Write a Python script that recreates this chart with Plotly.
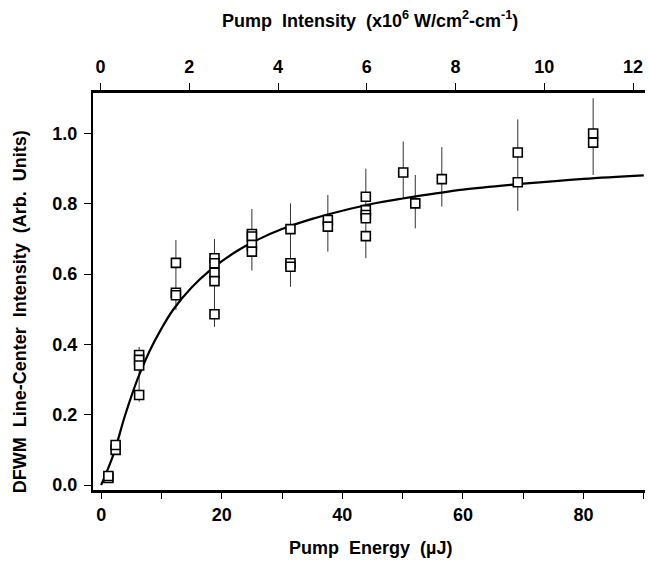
import plotly.graph_objects as go

# ---- data ----
# measured points (pump energy in uJ, DFWM signal in arb. units)
energy = [1.2, 1.2,
          2.4, 2.4,
          6.3, 6.3, 6.3, 6.3,
          12.4, 12.4, 12.4,
          18.8, 18.8, 18.8, 18.8, 18.8,
          25.0, 25.0, 25.0, 25.0,
          31.4, 31.4, 31.4,
          37.6, 37.6,
          43.9, 43.9, 43.9, 43.9, 43.9,
          50.1, 52.1, 56.5,
          69.1, 69.1,
          81.6, 81.6]
signal = [0.020, 0.026,
          0.100, 0.114,
          0.370, 0.356, 0.340, 0.256,
          0.632, 0.547, 0.540,
          0.645, 0.631, 0.604, 0.580, 0.486,
          0.714, 0.707, 0.683, 0.664,
          0.728, 0.631, 0.621,
          0.754, 0.735,
          0.820, 0.782, 0.768, 0.759, 0.708,
          0.889, 0.801, 0.870,
          0.946, 0.861,
          1.000, 0.974]

# error bar extents per energy group
err_energy = [2.4, 6.3, 12.4, 18.8, 25.0, 31.4, 37.6, 43.9, 50.1, 52.1, 56.5, 69.1, 81.6]
err_low = [0.090, 0.237, 0.498, 0.450, 0.610, 0.564, 0.664, 0.645, 0.816, 0.730, 0.792, 0.780, 0.882]
err_high = [0.128, 0.393, 0.697, 0.700, 0.785, 0.801, 0.825, 0.900, 0.977, 0.882, 0.961, 1.040, 1.100]

# fitted saturation curve
fit_energy = [0, 2, 4, 6, 8, 10, 12, 15, 18, 22, 26, 30, 35, 40, 45, 50, 55, 60, 70, 80, 90]
fit_signal = [0.0, 0.085, 0.20, 0.30, 0.38, 0.445, 0.50, 0.562, 0.61, 0.66, 0.698, 0.728, 0.757, 0.78, 0.80, 0.815, 0.828, 0.84, 0.857, 0.871, 0.881]

bottom_ticks = [0, 20, 40, 60, 80]
top_ticks = [0, 2, 4, 6, 8, 10, 12]
y_ticks = [0.0, 0.2, 0.4, 0.6, 0.8, 1.0]

FONT = "Liberation Sans, Arial, Helvetica, sans-serif"

err_center = [(lo + hi) / 2 for lo, hi in zip(err_low, err_high)]
err_half = [(hi - lo) / 2 for lo, hi in zip(err_low, err_high)]

fig = go.Figure()

fig.add_trace(go.Scatter(
    x=err_energy, y=err_center, mode="markers",
    marker=dict(size=0.1, color="rgba(0,0,0,0)"),
    error_y=dict(type="data", array=err_half, visible=True,
                 color="#333333", thickness=1, width=0),
    showlegend=False, hoverinfo="skip"))

fig.add_trace(go.Scatter(
    x=fit_energy, y=fit_signal, mode="lines", line_shape="spline",
    line=dict(color="black", width=2.2), showlegend=False))

fig.add_trace(go.Scatter(
    x=energy, y=signal, mode="markers",
    marker=dict(symbol="square", size=9, color="white",
                line=dict(color="black", width=1.6)),
    showlegend=False))

# dummy trace to carry the top axis
fig.add_trace(go.Scatter(x=[0], y=[None], xaxis="x2", mode="markers",
                         showlegend=False, hoverinfo="skip"))

tickfont = dict(family=FONT, size=18, color="black", weight="bold")
titlefont = dict(family=FONT, size=18, color="black", weight="bold")

fig.update_layout(
    width=649, height=561,
    margin=dict(l=93, r=4, t=93, b=71, autoexpand=False),
    plot_bgcolor="white", paper_bgcolor="white",
    font=dict(family=FONT, color="black"),
    xaxis=dict(range=[-1.35, 90.2], showgrid=False, zeroline=False, automargin=False,
               showline=True, linecolor="black", linewidth=3, mirror=False,
               ticks="outside", ticklen=6, tickwidth=1, tickcolor="black",
               tickvals=bottom_ticks, tickfont=tickfont, ticklabelstandoff=0,
               minor=dict(dtick=10, tick0=0, ticks="outside", ticklen=6,
                          tickwidth=1, tickcolor="black", showgrid=False)),
    xaxis2=dict(range=[-0.169, 12.27], overlaying="x", side="top", automargin=False,
                showgrid=False, zeroline=False,
                showline=True, linecolor="black", linewidth=3,
                ticks="outside", ticklen=7, tickwidth=1, tickcolor="black",
                tickvals=top_ticks, tickfont=tickfont, ticklabelstandoff=3),
    yaxis=dict(range=[-0.014, 1.115], showgrid=False, zeroline=False, automargin=False,
               showline=True, linecolor="black", linewidth=2, mirror=False,
               ticks="outside", ticklen=7, tickwidth=1, tickcolor="black",
               tickvals=y_ticks, tickformat=".1f", tickfont=tickfont,
               ticklabelstandoff=3),
    annotations=[
        dict(text="Pump  Energy  (\u00b5J)", xref="paper", yref="paper",
             x=0.502, y=-0.146, showarrow=False, xanchor="center", yanchor="middle",
             font=titlefont),
        dict(text="Pump  Intensity  (x10<sup>6</sup> W/cm<sup>2</sup>-cm<sup>-1</sup>)",
             xref="paper", yref="paper",
             x=0.502, y=1.184, showarrow=False, xanchor="center", yanchor="middle",
             font=titlefont),
        dict(text="DFWM  Line-Center  Intensity  (Arb.  Units)", xref="paper", yref="paper",
             x=-0.132, y=0.448, showarrow=False, textangle=-90,
             xanchor="center", yanchor="middle",
             font=titlefont),
    ],
)

fig.write_html("out.html", config={"displayModeBar": False},
               post_script="document.body.style.margin='0';")
